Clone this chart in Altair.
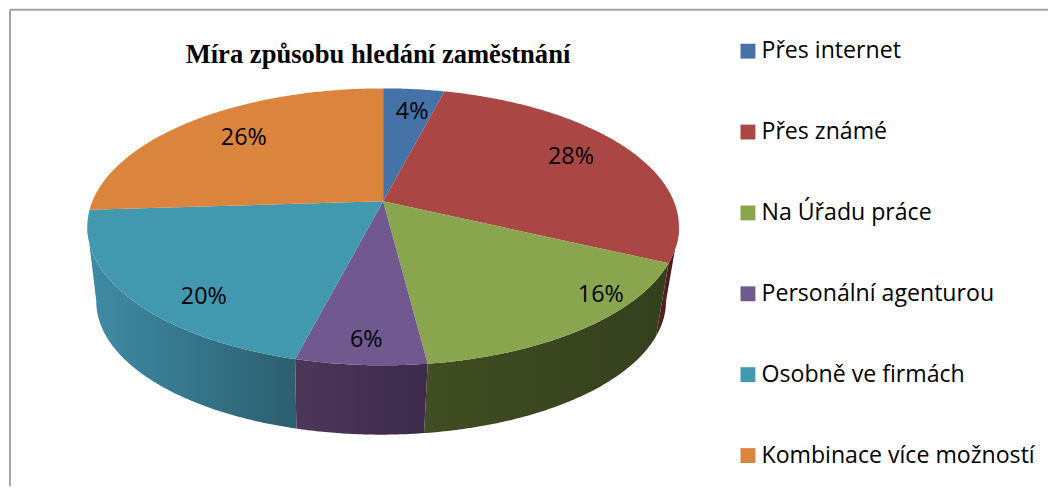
import math
import altair as alt

TITLE = "Míra způsobu hledání zaměstnání"
CATEGORIES = ["Přes internet", "Přes známé", "Na Úřadu práce",
              "Personální agenturou", "Osobně ve firmách", "Kombinace více možností"]
VALUES = [4, 28, 16, 6, 20, 26]
COLORS = ["#4572A7", "#AA4643", "#89A54E", "#71588F", "#4198AF", "#DB843D"]
WALL_STOPS = [
    ("#33506f", "#2a4460"),
    ("#5a2022", "#451a1c"),
    ("#414e23", "#343f1c"),
    ("#4c3759", "#3c2b4a"),
    ("#3f8ca5", "#2c5f6e"),
    ("#8f5726", "#7a4a20"),
]
LABEL_NUDGE = [(5, -2), (1.5, -3.5), (74, 2), (-1, 23), (5, 26), (6, -1)]

# Perspective model of the disc: a unit circle seen from above
TOP = dict(b=293.0, a=134.8, k=0.184, s=1.0, drop=0.0, shift=0.0)
BOTTOM = dict(b=293.0, a=134.8, k=0.184, s=0.963, drop=76.0, shift=-2.0)
# Angle past 90 degrees at which the outline is widest: walls start and stop there
TANGENT = math.degrees(math.asin(TOP["k"]))


def project(theta_deg, r=1.0, m=TOP):
    t = math.radians(theta_deg)
    u, v = math.sin(t) * r, math.cos(t) * r
    d = 1 + m["k"] * v
    return [m["s"] * m["b"] * u / d + m["shift"], m["s"] * m["a"] * v / d - m["drop"]]


def arc(t0, t1, m=TOP):
    n = max(2, int(abs(t1 - t0) * 2))
    return [project(t0 + (t1 - t0) * i / n, 1.0, m) for i in range(n + 1)]


total = sum(VALUES)
edges = [0.0]
for val in VALUES:
    edges.append(edges[-1] + val / total * 360)

top_features, wall_layers, labels = [], [], []
for i, name in enumerate(CATEGORIES):
    t0, t1 = edges[i], edges[i + 1]
    ring = [[0.0, 0.0]] + arc(t0, t1) + [[0.0, 0.0]]
    top_features.append({"type": "Feature", "properties": {"name": name},
                         "geometry": {"type": "Polygon", "coordinates": [ring]}})
    mid = (t0 + t1) / 2
    lon, lat = project(mid, 0.75)
    labels.append({"lon": lon + LABEL_NUDGE[i][0], "lat": lat - LABEL_NUDGE[i][1],
                   "label": f"{VALUES[i]}%"})

PROJ = dict(type="identity", reflectY=True, scale=1, translate=[378, 193])

for i, name in enumerate(CATEGORIES):
    # only the front of the disc shows a wall
    w0, w1 = max(edges[i], 90.0 + TANGENT), min(edges[i + 1], 270.0 - TANGENT)
    if w1 <= w0:
        continue
    ring = arc(w0, w1, TOP) + arc(w1, w0, BOTTOM)
    ring.append(ring[0])
    feature = {"type": "Feature", "properties": {"name": name},
               "geometry": {"type": "Polygon", "coordinates": [ring]}}
    grad = alt.LinearGradient(
        gradient="linear", x1=0, x2=1, y1=0, y2=0,
        stops=[alt.GradientStop(color=WALL_STOPS[i][0], offset=0),
               alt.GradientStop(color=WALL_STOPS[i][1], offset=1)])
    wall_layers.append(
        alt.Chart(alt.InlineData(values=[feature]))
        .mark_geoshape(fill=grad, strokeWidth=0)
        .project(**PROJ)
    )

top = (
    alt.Chart(alt.InlineData(values=top_features))
    .mark_geoshape(strokeWidth=0)
    .encode(
        color=alt.Color(
            "properties.name:N",
            sort=CATEGORIES,
            scale=alt.Scale(domain=CATEGORIES, range=COLORS),
            legend=alt.Legend(
                title=None, orient="none", legendX=734, legendY=30,
                symbolType="square", symbolSize=225, symbolStrokeWidth=0,
                labelFont="Open Sans", labelFontSize=23.3, labelColor="#000000",
                labelOffset=2, rowPadding=57.5, labelLimit=320, padding=0,
            ),
        )
    )
    .project(**PROJ)
)

text = (
    alt.Chart(alt.Data(values=labels))
    .mark_text(font="Open Sans", fontSize=23.5, color="#000000", align="center", baseline="middle")
    .encode(longitude="lon:Q", latitude="lat:Q", text="label:N")
    .project(**PROJ)
)

frame_top = alt.Chart(alt.Data(values=[{}])).mark_rule(color="#a3a3a3", strokeWidth=2).encode(
    x=alt.value(2), x2=alt.value(1048), y=alt.value(0))
frame_left = alt.Chart(alt.Data(values=[{}])).mark_rule(color="#a3a3a3", strokeWidth=2).encode(
    x=alt.value(2), y=alt.value(0), y2=alt.value(480))

chart = (
    alt.layer(frame_top, frame_left, *wall_layers, top, text)
    .properties(
        width=1048, height=480, padding=0,
        autosize=alt.AutoSizeParams(type="none"),
        background="#ffffff",
        title=alt.TitleParams(
            text=TITLE, font="Liberation Serif", fontSize=26.8, fontWeight="bold",
            color="#000000", anchor="start", frame="group", dx=179, dy=81, offset=0,
            baseline="alphabetic",
        ),
    )
    .configure_view(stroke=None)
)

chart.save("out.html", embed_options={"renderer": "svg", "actions": False})
